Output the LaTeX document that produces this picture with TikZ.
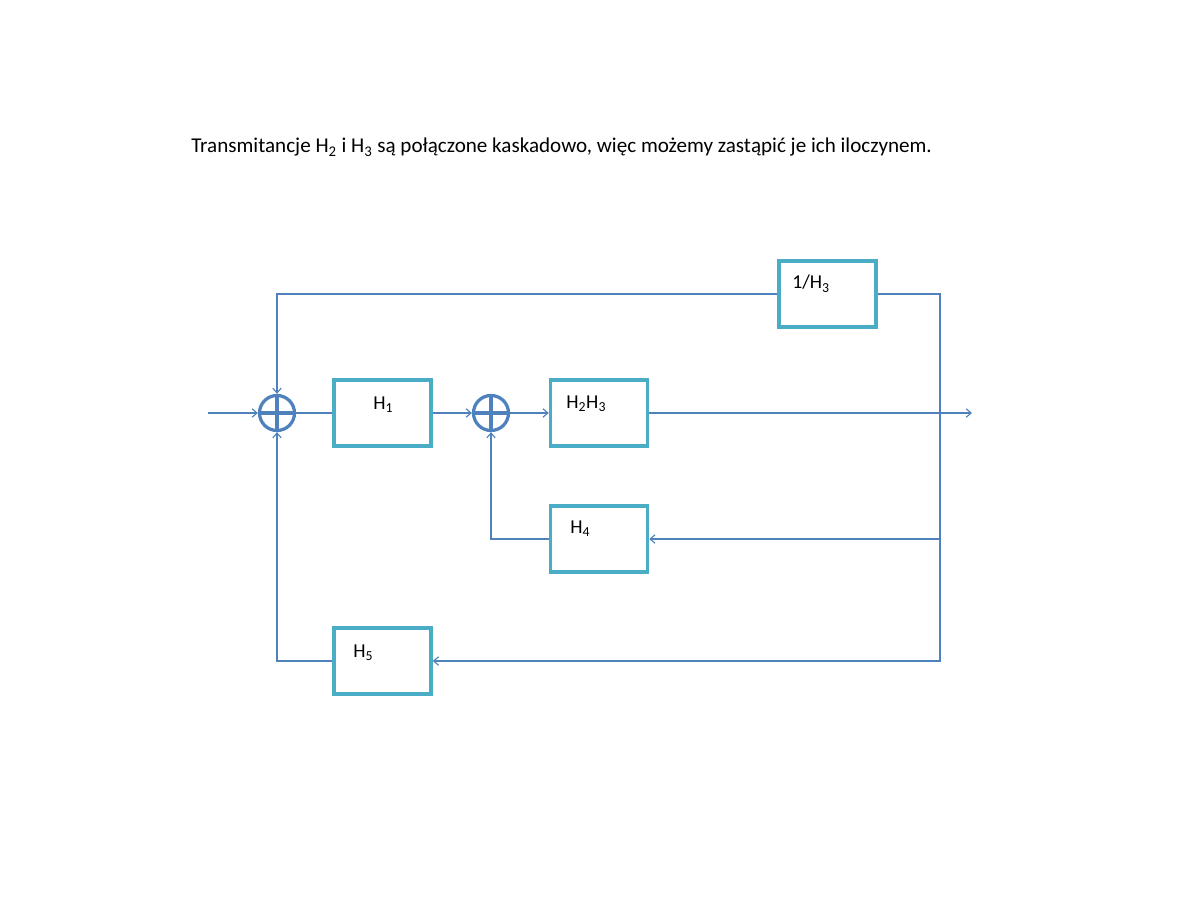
\documentclass[tikz,border=0pt]{standalone}
\usepackage{fontspec}
\setmainfont{Carlito}
\usetikzlibrary{arrows.meta,positioning}
\definecolor{lineblue}{RGB}{79,129,189}
\definecolor{boxaqua}{RGB}{75,172,198}

\begin{document}
\begin{tikzpicture}[
  x=0.025cm, y=-0.025cm,
  every node/.style={font=\fontsize{14}{16}\selectfont},
  box/.style={draw=boxaqua, line width=2.6pt, minimum width=2.42cm, minimum height=1.66cm},
  sum/.style={circle, draw=lineblue, line width=2.3pt, minimum size=0.875cm, inner sep=0pt,
    path picture={\draw[lineblue, line width=2.3pt]
      (path picture bounding box.north) -- (path picture bounding box.south)
      (path picture bounding box.west) -- (path picture bounding box.east);}},
  lbl/.style={anchor=base west, inner sep=0pt},
  sig/.style={draw=lineblue, line width=0.8pt},
  >={Straight Barb[length=3.5pt,width=6pt]}
]
\useasboundingbox (0,0) rectangle (1188,918);

\node[lbl, font=\fontsize{15}{18}\selectfont] (title) at (191,153) {Transmitancje H\textsubscript{2} i H\textsubscript{3} są połączone kaskadowo, więc możemy zastąpić je ich iloczynem.};

% blocks
\node[sum] (s1) at (277,413) {};
\node[sum] (s2) at (491,413) {};
\node[box] (h1) at (382.5,413) {};
\node[box] (h23) at (599,413) {};
\node[box] (inv) at (827.5,294) {};
\node[box] (h4) at (599,539) {};
\node[box] (h5) at (382.5,661) {};

\node[lbl] (h1txt) at (373,409) {H\textsubscript{1}};
\node[lbl] (h23txt) at (566,408) {H\textsubscript{2}H\textsubscript{3}};
\node[lbl] (invtxt) at (792,289) {1/H\textsubscript{3}};
\node[lbl] (h4txt) at (570,533) {H\textsubscript{4}};
\node[lbl] (h5txt) at (353,657) {H\textsubscript{5}};

\coordinate (xin) at (208,413);
\coordinate (junc) at (940,413);
\coordinate (yout) at (972,413);

% signals
\draw[sig, ->] (xin) -- (s1.west);
\draw[sig] (s1.east) -- (h1.west);
\draw[sig, ->] (h1.east) -- (s2.west);
\draw[sig, ->] (s2.east) -- (h23.west);
\draw[sig, ->] (h23.east) -- (yout);
\draw[sig] (junc) |- (inv.east);
\draw[sig, ->] (inv.west) -| (s1.north);
\draw[sig, ->] (junc) |- (h4.east);
\draw[sig, ->] (h4.west) -| (s2.south);
\draw[sig, ->] (junc) |- (h5.east);
\draw[sig, ->] (h5.west) -| (s1.south);
\end{tikzpicture}
\end{document}
